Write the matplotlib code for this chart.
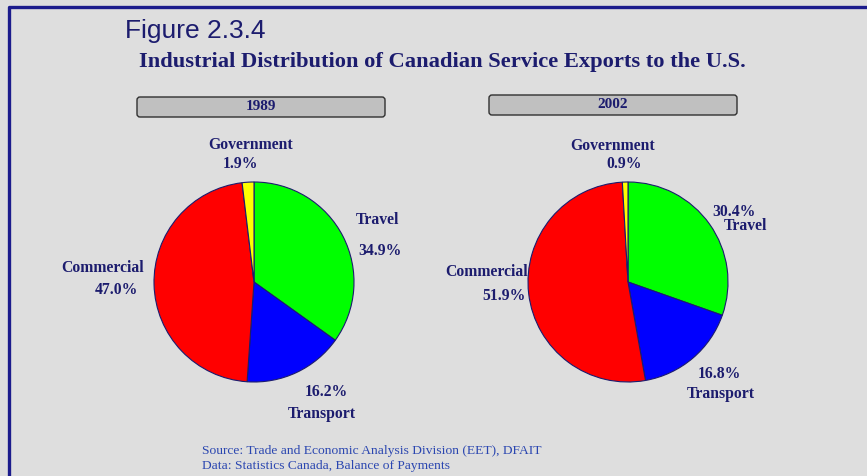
import matplotlib
matplotlib.use("Agg")
import matplotlib.pyplot as plt
from matplotlib.patches import FancyBboxPatch

categories = ["Travel", "Transport", "Commercial", "Government"]
values_1989 = [34.9, 16.2, 47.0, 1.9]
values_2002 = [30.4, 16.8, 51.9, 0.9]
years = ["1989", "2002"]
colors = ["#00ff00", "#0000ff", "#ff0000", "#ffff00"]

W, H = 867, 476
BG = "#dedede"
NAVY = "#1c1c6e"
fig = plt.figure(figsize=(W / 100, H / 100), dpi=100, facecolor=BG)
ax = fig.add_axes([0, 0, 1, 1])
ax.set_xlim(0, W)
ax.set_ylim(0, H)
ax.set_aspect("equal")
ax.axis("off")
ax.set_facecolor(BG)

def Y(y):
    return H - y

# border
ax.plot([9, 9, W + 5], [-5, Y(7), Y(7)], color="#1c1c8c", lw=2.4, solid_capstyle="butt")

serif = "Liberation Serif"
ax.text(125, Y(38), "Figure 2.3.4", fontsize=19, family="Liberation Sans",
        color=NAVY, ha="left", va="baseline")
ax.text(442, Y(62), "Industrial Distribution of Canadian Service Exports to the U.S.",
        fontsize=16.2, family=serif, weight="bold", color=NAVY, ha="center", va="center")

# year boxes
for (x0, y0), yr in zip([(137, 97), (489, 95)], years):
    box = FancyBboxPatch((x0, Y(y0 + 20)), 248, 20, boxstyle="round,pad=0,rounding_size=3",
                         fc="#c0c0c0", ec="#303030", lw=1.0)
    ax.add_patch(box)
    ax.text(x0 + 124, Y(y0 + 10), yr, fontsize=11, family=serif, weight="bold",
            color=NAVY, ha="center", va="center")

centers = [(254, 282), (628, 282)]
for (cx, cy), vals in zip(centers, [values_1989, values_2002]):
    ax.pie(vals, colors=colors, startangle=90, counterclock=False,
           center=(cx, Y(cy)), radius=100,
           wedgeprops=dict(edgecolor="#1c1c6e", linewidth=0.8))
ax.set_xlim(0, W)
ax.set_ylim(0, H)

def lab(x, y, s):
    ax.text(x, Y(y), s, fontsize=11.3, family=serif, weight="bold", color=NAVY,
            ha="center", va="center")

# 1989 labels
lab(251, 145, categories[3]); lab(241, 164, f"{values_1989[3]:.1f}%")
lab(377, 220, categories[0]); lab(380, 251, f"{values_1989[0]:.1f}%")
lab(103, 268, categories[2]); lab(116, 290, f"{values_1989[2]:.1f}%")
lab(326, 392, f"{values_1989[1]:.1f}%"); lab(322, 414, categories[1])
# 2002 labels
lab(613, 146, categories[3]); lab(624, 164, f"{values_2002[3]:.1f}%")
lab(734, 212, f"{values_2002[0]:.1f}%"); lab(745, 226, categories[0])
lab(487, 272, categories[2]); lab(504, 296, f"{values_2002[2]:.1f}%")
lab(719, 374, f"{values_2002[1]:.1f}%"); lab(721, 394, categories[1])

SRC = "#2a46b0"
ax.text(202, Y(451), "Source: Trade and Economic Analysis Division (EET), DFAIT",
        fontsize=9.7, family=serif, color=SRC, ha="left", va="center")
ax.text(202, Y(466), "Data: Statistics Canada, Balance of Payments",
        fontsize=9.7, family=serif, color=SRC, ha="left", va="center")

fig.savefig("out.png", dpi=100, facecolor=BG)
